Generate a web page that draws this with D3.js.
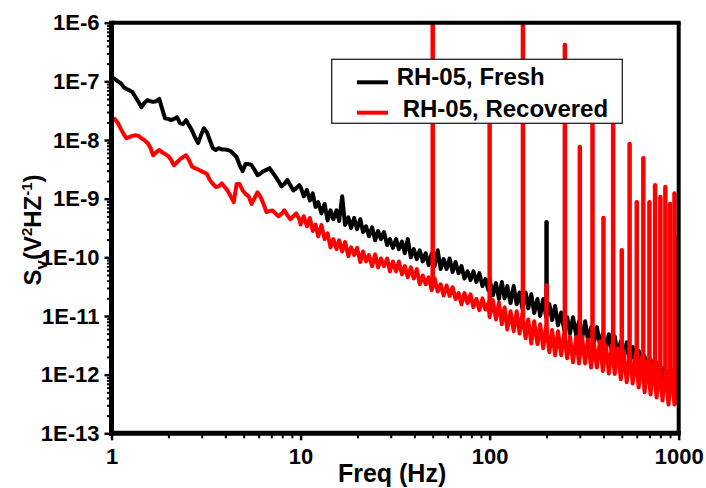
<!DOCTYPE html>
<html>
<head>
<meta charset="utf-8">
<script src="https://cdn.jsdelivr.net/npm/d3@7"></script>
<style>
    body { margin: 0; background: #fff; }
    text { font-family: Arial, "Liberation Sans", sans-serif; font-weight: bold; fill: #000; }
</style>
</head>
<body>
<script>
// frequency grid: same mantissas in every decade
const mantissas = [1,1.04,1.08,1.12,1.16,1.2,1.24,1.29,1.34,1.39,1.44,1.49,1.55,1.6,1.66,1.72,1.79,1.85,1.92,1.99,
    2.07,2.14,2.22,2.3,2.39,2.48,2.57,2.66,2.76,2.87,2.97,3.08,3.2,3.31,3.44,3.56,3.69,3.83,3.97,4.12,4.27,4.43,
    4.59,4.76,4.94,5.12,5.31,5.51,5.71,5.92,6.14,6.37,6.6,6.85,7.1,7.36,7.64,7.92,8.21,8.51,8.83,9.16,9.49,9.85];
const decades = [1, 10, 100];

// log10(Sv), one value per grid frequency
const freshLow = [-6.93,-6.96,-7.00,-7.03,-7.10,-7.13,-7.15,-7.18,-7.27,-7.35,-7.44,-7.37,-7.32,-7.34,-7.35,-7.34,
    -7.30,-7.46,-7.63,-7.64,-7.66,-7.64,-7.61,-7.71,-7.73,-7.66,-7.75,-7.83,-7.95,-8.05,-7.92,-7.80,-7.87,-8.00,
    -8.14,-8.17,-8.14,-8.16,-8.16,-8.17,-8.19,-8.24,-8.29,-8.43,-8.53,-8.41,-8.41,-8.43,-8.51,-8.60,-8.57,-8.53,
    -8.51,-8.48,-8.55,-8.62,-8.70,-8.79,-8.75,-8.68,-8.77,-8.86,-8.82,-8.77];
const freshMid = [-8.80,-8.96,-8.85,-9.03,-8.91,-9.14,-9.06,-9.25,-9.09,-9.37,-9.20,-9.35,-9.20,-9.38,-8.96,-9.45,
    -9.32,-9.50,-9.33,-9.52,-9.35,-9.57,-9.47,-9.64,-9.49,-9.71,-9.55,-9.69,-9.57,-9.79,-9.69,-9.84,-9.69,-9.86,
    -9.73,-9.93,-9.69,-10.00,-9.86,-10.03,-9.88,-10.07,-9.93,-10.13,-9.93,-10.15,-9.88,-10.20,-10.03,-10.20,
    -10.02,-10.25,-10.08,-10.27,-10.15,-10.36,-10.24,-10.39,-10.24,-10.42,-10.27,-10.49,-10.37,-10.56];
const freshHigh = [-10.37,-10.65,-10.44,-10.71,-10.42,-10.70,-10.49,-10.78,-10.49,-10.80,-10.60,-10.87,-10.60,-10.87,
    -10.63,-10.95,-10.71,-11.00,-10.71,-11.02,-10.80,-11.07,-10.83,-11.16,-10.94,-11.24,-11.02,-11.30,-11.02,-11.33,
    -11.09,-11.40,-11.09,-11.40,-11.19,-11.47,-11.19,-11.48,-11.30,-11.57,-11.31,-11.60,-11.35,-11.67,-11.43,-11.69,
    -11.45,-11.79,-11.53,-11.82,-11.59,-11.91,-11.69,-11.99,-11.74,-12.01,-11.79,-12.11,-11.89,-12.20,-11.94,-12.23,
    -11.99,-12.32];
const freshEnd = -12.10;

const recoveredLow = [-7.63,-7.64,-7.71,-7.81,-7.90,-7.97,-7.95,-7.93,-7.92,-7.93,-7.97,-8.00,-8.05,-8.12,-8.26,-8.21,
    -8.17,-8.21,-8.24,-8.27,-8.34,-8.43,-8.38,-8.33,-8.29,-8.26,-8.34,-8.45,-8.48,-8.50,-8.53,-8.55,-8.58,-8.68,
    -8.75,-8.80,-8.79,-8.74,-8.80,-8.87,-8.96,-9.06,-8.75,-8.75,-8.86,-8.92,-8.96,-9.09,-8.99,-8.89,-8.97,-9.09,
    -9.23,-9.21,-9.20,-9.25,-9.30,-9.26,-9.20,-9.28,-9.35,-9.30,-9.25,-9.35];
const recoveredMid = [-9.44,-9.30,-9.47,-9.33,-9.55,-9.44,-9.64,-9.45,-9.69,-9.59,-9.83,-9.69,-9.86,-9.71,-9.90,-9.74,
    -9.98,-9.83,-9.96,-9.84,-10.08,-9.90,-10.07,-9.96,-10.15,-9.95,-10.17,-10.02,-10.15,-10.02,-10.24,-10.07,-10.24,
    -10.07,-10.29,-10.15,-10.34,-10.17,-10.36,-10.20,-10.46,-10.31,-10.46,-10.34,-10.56,-10.36,-10.58,-10.46,-10.65,
    -10.48,-10.66,-10.51,-10.71,-10.61,-10.80,-10.61,-10.78,-10.63,-10.85,-10.71,-10.90,-10.70,-10.89,-10.78];
const recoveredHigh = [-11.02,-10.73,-11.06,-10.77,-11.14,-10.85,-11.23,-10.92,-11.26,-10.92,-11.30,-10.97,-11.38,
    -11.06,-11.47,-11.09,-11.48,-11.14,-11.55,-11.18,-11.62,-11.24,-11.67,-11.26,-11.67,-11.28,-11.72,-11.35,-11.79,
    -11.36,-11.81,-11.35,-11.81,-11.40,-11.88,-11.45,-11.88,-11.43,-11.94,-11.50,-11.98,-11.50,-11.99,-11.55,-12.08,
    -11.60,-12.13,-11.62,-12.15,-11.65,-12.22,-11.70,-12.30,-11.77,-12.34,-11.79,-12.39,-11.88,-12.44,-11.91,-12.51,
    -11.93,-12.51,-11.94];
const recoveredEnd = -12.52;

// mains harmonics (log10 Sv of the peak and of the noise floor under it)
const recoveredSpikeFreq = [50,100,150,200,250,300,350,400,450,500,550,600,650,700,750,800,850,900,950,990];
const recoveredSpikePeak = [-5,-7.3,-5,-10.48,-6.38,-8.12,-7.3,-9.33,-7.3,-9.88,-8.07,-9.06,-8.31,-9.06,-8.77,-8.97,-8.80,-9.09,-8.91,-9.68];
const recoveredSpikeBase = [-10.44,-10.87,-11.16,-11.41,-11.50,-11.57,-11.64,-11.69,-11.77,-11.82,-11.88,-11.93,-11.98,-12.03,-12.08,-12.13,-12.18,-12.20,-12.23,-12.30];
const freshSpikeFreq = [200];
const freshSpikePeak = [-9.40];
const freshSpikeBase = [-10.90];

const xTicks = [1, 10, 100, 1000];
const xTickLabels = ["1", "10", "100", "1000"];
const yTicks = [1e-6, 1e-7, 1e-8, 1e-9, 1e-10, 1e-11, 1e-12, 1e-13];
const yTickLabels = ["1E-6", "1E-7", "1E-8", "1E-9", "1E-10", "1E-11", "1E-12", "1E-13"];
const seriesNames = ["RH-05, Fresh", "RH-05, Recovered"];
const seriesColors = ["#000000", "#ff0000"];

drawChart();

function drawChart() {
    var width = 706, height = 488;
    var left = 111.5, right = 678.7, top = 22.7, bottom = 433.3;

    var svg = d3.select("body").append("svg")
        .attr("width", width)
        .attr("height", height);

    var x = d3.scaleLog().domain([1, 1000]).range([left, right]);
    var y = d3.scaleLog().domain([1e-13, 1e-6]).range([bottom, top]);

    var freqs = decades.flatMap(d => mantissas.map(m => +(m * d).toFixed(3))).concat([1000]);
    var fresh = freshLow.concat(freshMid, freshHigh, [freshEnd]);
    var recovered = recoveredLow.concat(recoveredMid, recoveredHigh, [recoveredEnd]);

    svg.append("clipPath").attr("id", "plot")
        .append("rect")
        .attr("x", left).attr("y", top)
        .attr("width", right - left).attr("height", bottom - top);

    var line = d3.line()
        .x(d => x(d[0]))
        .y(d => y(Math.pow(10, d[1])));

    var plot = svg.append("g").attr("clip-path", "url(#plot)");

    function drawSeries(vals, color) {
        plot.append("path")
            .datum(freqs.map((f, i) => [f, vals[i]]))
            .attr("d", line)
            .attr("fill", "none")
            .attr("stroke", color)
            .attr("stroke-width", 4)
            .attr("stroke-linejoin", "round");
    }

    function drawSpikes(fs, peaks, bases, color) {
        plot.selectAll(null)
            .data(fs)
            .enter()
            .append("path")
            .attr("d", (f, i) => line([[f, bases[i]], [f, peaks[i]]]))
            .attr("stroke", color)
            .attr("stroke-width", 4.5)
            .attr("stroke-linecap", "round");
    }

    drawSeries(fresh, seriesColors[0]);
    drawSpikes(freshSpikeFreq, freshSpikePeak, freshSpikeBase, seriesColors[0]);
    drawSeries(recovered, seriesColors[1]);
    drawSpikes(recoveredSpikeFreq, recoveredSpikePeak, recoveredSpikeBase, seriesColors[1]);

    // minor ticks
    var xMinor = [], yMinor = [];
    [1, 10, 100].forEach(d => { for (var k = 2; k < 10; k++) xMinor.push(k * d); });
    yTicks.slice(1).forEach(d => { for (var k = 2; k < 10; k++) yMinor.push(k * d); });

    var xMinorAxis = svg.append("g")
        .attr("transform", "translate(0," + bottom + ")")
        .call(d3.axisBottom(x).tickValues(xMinor).tickSize(5).tickFormat(""));
    var yMinorAxis = svg.append("g")
        .attr("transform", "translate(" + left + ",0)")
        .call(d3.axisLeft(y).tickValues(yMinor).tickSize(4.5).tickFormat(""));
    [xMinorAxis, yMinorAxis].forEach(a => {
        a.select(".domain").remove();
        a.selectAll("line").attr("stroke-width", 2);
    });

    var xAxis = svg.append("g")
        .attr("transform", "translate(0," + bottom + ")")
        .call(d3.axisBottom(x).tickValues(xTicks).tickSize(7).tickPadding(8)
            .tickFormat((d, i) => xTickLabels[i]));
    var yAxis = svg.append("g")
        .attr("transform", "translate(" + left + ",0)")
        .call(d3.axisLeft(y).tickValues(yTicks).tickSize(7).tickPadding(5)
            .tickFormat((d, i) => yTickLabels[i]));
    [xAxis, yAxis].forEach(a => {
        a.select(".domain").remove();
        a.selectAll("line").attr("stroke-width", 2.5);
        a.selectAll("text")
            .attr("font-size", "22px")
            .attr("font-family", "Arial, 'Liberation Sans', sans-serif")
            .attr("font-weight", "bold")
            .attr("fill", "#000");
    });

    // frame
    svg.append("line").attr("x1", left).attr("x2", left).attr("y1", top - 2).attr("y2", bottom + 2.5)
        .attr("stroke", "#000").attr("stroke-width", 5);
    svg.append("line").attr("x1", left - 2.5).attr("x2", right + 2).attr("y1", bottom).attr("y2", bottom)
        .attr("stroke", "#000").attr("stroke-width", 5);
    svg.append("line").attr("x1", left).attr("x2", right + 2).attr("y1", top).attr("y2", top)
        .attr("stroke", "#000").attr("stroke-width", 4);
    svg.append("line").attr("x1", right).attr("x2", right).attr("y1", top).attr("y2", bottom)
        .attr("stroke", "#000").attr("stroke-width", 4);

    // axis titles
    svg.append("text")
        .attr("x", (left + right) / 2 - 3)
        .attr("y", 482)
        .attr("text-anchor", "middle")
        .attr("font-size", "25px")
        .text("Freq (Hz)");

    var yTitle = svg.append("text")
        .attr("transform", "translate(41,230) rotate(-90)")
        .attr("text-anchor", "middle")
        .attr("font-size", "24px");
    yTitle.append("tspan").text("S");
    yTitle.append("tspan").attr("font-size", "17px").attr("dy", 6).text("v");
    yTitle.append("tspan").attr("dy", -6).text("(V");
    yTitle.append("tspan").attr("font-size", "15px").attr("dy", -9).text("2");
    yTitle.append("tspan").attr("dy", 9).text("HZ");
    yTitle.append("tspan").attr("font-size", "15px").attr("dy", -9).text("-1");
    yTitle.append("tspan").attr("dy", 9).text(")");

    // legend
    var legend = svg.append("g");
    legend.append("rect")
        .attr("x", 331.7).attr("y", 59.3)
        .attr("width", 290.6).attr("height", 64)
        .attr("fill", "#fff")
        .attr("stroke", "#222")
        .attr("stroke-width", 1.3);
    var rows = [{ y: 82.3, base: 85, tx: 396.7 }, { y: 112.7, base: 116.7, tx: 402.7 }];
    rows.forEach((r, i) => {
        legend.append("line")
            .attr("x1", 357).attr("x2", 388)
            .attr("y1", r.y).attr("y2", r.y)
            .attr("stroke", seriesColors[i])
            .attr("stroke-width", 4);
        legend.append("text")
            .attr("x", r.tx).attr("y", r.base)
            .attr("font-size", "24px")
            .text(seriesNames[i]);
    });

    return svg.node();
}
</script>
</body>
</html>
